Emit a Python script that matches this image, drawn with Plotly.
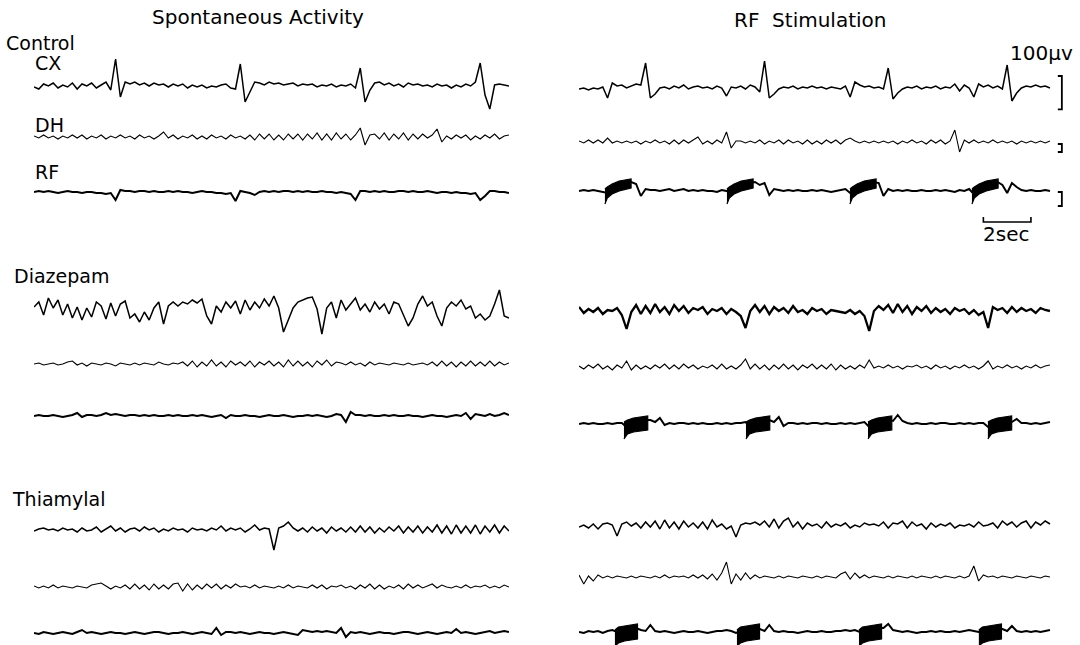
import plotly.graph_objects as go

# ---------------- data (µV, upward positive, one sample every 0.2 s) ----------------
DT = 0.2

# Control - spontaneous activity
ctrl_sp_cx = [0,-6,9,3,12,-3,6,0,12,-6,9,3,12,-3,6,15,-9,
              84,-30,15,
              9,15,6,12,3,12,6,9,0,9,3,9,-3,6,0,6,-3,3,0,6,9,-3,
              -6,69,-45,-15,15,
              12,6,15,9,12,6,9,12,3,9,6,9,0,6,3,9,0,6,3,9,-3,
              57,-45,-10,12,
              15,6,12,3,9,0,12,6,9,3,6,0,9,3,6,-3,6,0,9,3,15,
              72,-24,-66,6,9,6,3]
ctrl_sp_dh = [3,-3,6,-3,3,-6,3,-3,6,-3,6,-6,3,-3,6,-6,3,-3,6,-3,3,-6,6,-3,3,-6,3,
              15,
              -3,6,-6,3,-3,6,-6,3,-6,6,-3,3,-6,6,-3,3,-6,6,
              -9,9,-6,9,-9,6,-9,9,-6,9,-9,9,-6,12,-9,9,-9,12,-6,9,-9,6,
              27,-24,6,
              9,-6,12,-9,9,-6,12,-9,9,-6,9,-3,6,
              24,-15,3,
              -6,6,-3,6,-9,3,-6,6,-3,9,-6,3,6]
ctrl_sp_rf = [0,3,0,3,0,-3,0,3,0,0,-3,0,0,-3,-3,-6,-3,
              -24,6,3,
              3,0,3,3,0,3,0,0,3,0,3,0,0,-3,0,3,0,0,-3,-3,-6,-3,
              -27,3,0,-3,-9,0,
              3,0,3,0,3,3,0,3,0,3,0,0,3,0,0,-3,0,-3,-6,
              -24,3,3,
              0,3,0,3,0,0,3,3,0,3,0,0,3,0,-3,0,0,-3,0,-3,-3,-6,-3,
              -24,-12,3,3,0,0,-3]

# Control - RF stimulation
ctrl_rf_cx = [0,3,-3,3,0,6,
              -27,
              18,9,12,3,9,15,
              12,78,-27,-15,3,
              6,0,9,3,12,0,6,9,3,6,0,9,3,
              -21,6,3,9,0,12,6,-9,
              84,-27,-15,0,
              6,3,9,0,6,3,9,3,6,0,6,3,0,9,
              -24,21,12,6,9,3,6,0,
              63,-30,-12,0,
              6,3,9,0,6,3,9,0,6,3,
              15,-6,12,3,-24,15,6,12,3,9,0,
              72,-36,-12,3,
              9,6,12,6,9,3]
ctrl_rf_dh = [3,-3,6,-3,6,-3,
              12,-3,
              3,-3,3,-3,3,-6,3,-3,6,-3,3,-6,6,-6,6,-3,
              6,15,-6,
              3,-6,6,-3,
              30,-18,3,
              3,-3,3,-3,6,-6,3,-3,6,-6,6,-3,3,-6,6,-6,3,-6,6,-3,6,-6,6,
              12,3,
              -3,3,-3,3,-3,3,-3,3,-6,3,-3,6,-3,3,-6,6,-3,6,-6,3,
              36,-30,6,
              -3,6,-3,3,-3,6,-3,3,-3,3,-6,3,-3,3,-3,3,-3,3]
ctrl_rf_rf = [0,3,0,3,0,-3,
              -6,6,15,18,21,
              27,21,-15,6,3,
              3,0,3,6,0,3,6,0,3,0,3,0,0,-3,3,
              0,
              -9,9,15,21,24,
              27,18,24,-12,6,3,
              0,3,0,3,0,0,3,0,3,0,-3,0,3,6,
              -6,6,15,21,24,
              27,24,-15,6,0,
              3,0,3,0,0,3,0,0,3,0,3,0,-3,3,0,6,
              -9,6,15,21,24,
              27,18,-6,24,12,3,
              0,3,0,0,3,0]

# Diazepam - spontaneous activity
dz_sp_cx = [15,30,-9,42,12,36,-9,24,-18,15,
            -24,12,-15,30,18,-21,27,-12,24,33,
            -18,-6,-30,0,-24,12,30,-36,18,30,
            18,30,24,36,27,39,-12,-36,18,0,
            30,12,33,-6,36,6,30,12,39,18,
            48,12,-60,-24,12,30,36,42,45,9,
            -66,12,30,-18,36,6,24,42,6,24,
            0,30,9,24,-6,30,24,-9,-42,-18,
            24,48,18,30,-12,-42,12,30,18,36,
            9,18,-18,-6,-24,-12,24,66,-12,-18]
dz_sp_dh = [0,3,-3,0,3,-3,0,6,9,-3,3,-6,3,0,-3,3,0,-6,3,0,-3,3,-3,3,0,-3,6,0,-3,3,0,
            6,-6,9,-9,6,-6,12,-6,6,-9,9,-3,6,-6,9,-9,6,-3,9,-6,6,-9,12,-6,9,-6,6,-9,9,-3,12,-6,6,
            3,-3,6,-3,3,-6,6,-3,3,0,-3,3,0,-3,3,-3,0,3,-3,
            6,-6,9,-6,6,-9,6,-6,9,-6,6,-6,9,-6,6,-3,3]
dz_sp_rf = [0,3,0,0,3,0,-3,0,3,
            9,-3,3,3,0,3,9,3,6,
            3,0,3,3,0,3,0,3,0,0,3,0,3,0,0,3,0,3,0,-3,0,
            3,-6,3,0,
            0,3,0,0,-3,0,3,0,0,3,0,-3,0,0,3,0,3,0,-3,0,6,
            3,-18,12,3,
            3,0,3,0,0,3,0,3,0,0,3,0,0,-3,0,3,0,0,-3,0,3,0,
            9,-9,6,3,
            0,6,0,3,9,3]

# Diazepam - RF stimulation
dz_rf_cx = [15,-3,9,0,12,-6,6,3,12,-9,
            -51,0,21,-6,
            18,-3,24,0,15,-6,21,3,18,-3,12,6,15,-6,9,3,12,-6,9,0,-12,
            -48,3,21,0,
            18,-6,15,3,12,-3,18,0,6,-6,12,3,9,-6,6,3,0,-3,6,-6,3,-12,
            -57,3,18,6,
            21,-3,24,0,18,-6,15,3,18,-3,12,0,9,-6,12,3,9,-6,6,-9,0,
            -48,15,6,
            12,-3,15,0,12,3,9,-3,12,6,3]
dz_rf_dh = [3,-6,6,-3,9,-6,3,-9,6,-3,
            18,-9,
            6,-6,3,-6,6,-3,9,-6,6,-6,9,-3,6,-6,3,-3,6,-6,9,-6,3,-6,6,
            24,-6,
            9,-6,6,-9,6,-6,9,-6,6,-9,6,-3,9,-6,6,-6,9,-9,6,-6,3,-6,6,-3,
            21,-3,
            3,-3,6,-3,3,-6,3,0,6,-3,3,-6,6,-3,3,-6,3,-3,6,-3,3,-6,3,
            18,-6,
            3,-3,6,-3,3,-6,3,-3,6,-3,3,6]
dz_rf_rf = [0,3,0,3,0,0,3,0,3,3,
            -9,0,6,9,12,12,
            6,18,-3,3,
            0,3,3,0,3,0,3,0,0,3,0,3,0,3,3,6,
            -9,0,6,12,12,
            6,21,-6,3,
            3,0,3,0,3,3,0,3,0,0,3,0,3,0,3,6,
            -9,0,6,12,12,
            9,27,9,3,
            0,3,0,0,3,0,3,3,0,0,3,0,3,0,3,3,
            -9,3,9,12,12,
            6,15,3,3,
            0,3,0,3,6]

# Thiamylal - spontaneous activity
th_sp_cx = [-3,3,6,0,3,-3,6,0,3,-6,6,-3,0,9,-6,3,12,-3,6,-6,3,6,-3,9,0,6,-6,3,-3,6,0,3,-6,6,0,3,-3,6,0,
            12,-3,6,0,6,-6,3,15,0,6,3,-60,6,12,24,6,-3,
            6,-6,9,-3,6,-9,9,-3,6,-6,9,-6,12,-6,9,-9,6,-6,9,-3,12,-9,9,-6,12,-9,9,-6,15,-9,
            12,-12,15,-9,12,-9,15,-12,12,-6,15,-9,12,-3]
th_sp_dh = [3,-3,3,-3,6,-3,3,0,-3,3,0,-3,6,9,12,3,-6,3,-3,6,
            -6,9,-6,6,-9,9,-6,6,-6,9,12,-12,9,-9,6,-6,9,-3,9,-6,
            6,-3,9,0,3,-3,6,-3,3,0,-3,3,-3,6,-3,3,0,-3,6,-3,
            6,-6,3,0,6,-3,3,-6,6,-3,9,-6,6,-6,3,-3,6,-6,9,-3,
            6,-3,3,9,-3,6,0,-3,3,-3,6,-3,3,0,6,-3,3,-3,6,0]
th_sp_rf = [0,-3,3,0,-3,0,3,0,-3,3,
            9,0,3,
            0,-3,0,3,0,0,-3,0,3,0,-3,0,3,3,0,-3,0,0,3,0,-3,0,3,0,-3,
            15,-6,3,
            3,0,3,0,-3,0,3,0,0,-3,0,3,0,-3,-6,
            9,6,3,
            6,3,6,3,0,
            15,-12,3,
            0,3,0,-3,0,3,0,0,-3,0,3,3,0,-3,0,3,0,-3,0,3,0,
            12,0,
            3,0,-3,0,3,6,0,3,6,3]

# Thiamylal - RF stimulation
th_rf_cx = [0,6,-3,9,-6,9,12,6,
            -27,9,15,3,
            12,-3,15,0,18,-6,21,-3,15,-6,18,0,12,-3,15,-6,21,0,9,-6,3,
            -30,6,12,9,15,6,18,0,24,-3,18,27,0,
            15,-6,12,3,9,-3,15,0,9,3,12,-3,6,0,12,6,9,3,15,-3,
            12,9,18,-3,15,3,9,-6,12,0,9,3,12,-3,6,3,9,0,15,3,
            6,12,-3,18,6,15,0,12,18,-3,15,6,18,9]
th_rf_dh = [6,-21,3,-12,6,-3,
            3,-3,3,0,-3,3,-3,3,0,-3,3,-3,6,-3,3,0,3,-3,6,-3,
            6,-6,9,-9,12,45,-21,9,-9,12,
            -6,6,-3,3,0,-3,3,-3,3,0,-3,3,0,-3,3,-3,3,0,-3,
            9,15,-6,12,-3,6,
            -3,3,0,-3,3,-3,3,0,-3,3,-3,3,0,-3,3,-3,3,0,-3,3,-3,3,
            33,-12,6,
            0,3,-3,3,0,-3,3,0,-3,3,0,-3,3,0]
th_rf_rf = [0,-3,3,0,3,-3,3,6,
            0,6,9,12,12,
            6,3,21,3,
            0,3,0,-3,0,3,0,0,3,0,-3,0,3,3,6,3,
            -3,3,6,9,12,9,
            3,21,3,
            0,3,0,0,-3,0,3,0,0,3,0,0,3,3,6,3,6,
            0,3,9,12,12,12,
            24,6,3,
            0,3,0,-3,0,0,3,0,3,0,0,3,0,3,6,3,
            0,6,9,12,12,9,
            3,18,3,
            0,3,0,3,0,3,6]

# RF stimulation trains (start times in s) and the envelope of the train response
ctrl_burst_starts = [1.09, 6.22, 11.39, 16.52]
ctrl_burst_t = [0, 0.1, 0.3, 0.6, 1.1]
ctrl_burst_lo = [-39, -21, -9, 0, 9]
ctrl_burst_hi = [6, 12, 21, 30, 36]

dz_burst_starts = [1.89, 7.02, 12.15, 17.19]
dz_burst_t = [0, 0.15, 0.4, 0.7, 1.0]
dz_burst_lo = [-45, -30, -24, -21, -18]
dz_burst_hi = [6, 12, 18, 21, 24]

th_burst_starts = [1.51, 6.64, 11.77, 16.81]
th_burst_t = [0, 0.15, 0.4, 0.7, 0.95]
th_burst_lo = [-42, -33, -27, -24, -21]
th_burst_hi = [6, 15, 18, 21, 24]

# calibration marks
CAL_UV = {"CX": 100, "DH": 24, "RF": 42}
SCALEBAR_SEC = 2

# ---------------- layout constants ----------------
UV_PER_PX = 3.0
FIG_W, FIG_H = 1080, 645
LEFT_BASE = {"Control": (87, 137, 192), "Diazepam": (312, 364, 416), "Thiamylal": (530, 587, 633)}
RIGHT_BASE = {"Control": (89, 142, 191), "Diazepam": (312, 367, 424), "Thiamylal": (527, 577, 632)}
WIDTHS = {"CX": 1.5, "DH": 1.1, "RF": 2.0}

fig = go.Figure()


def off(px):
    return -px * UV_PER_PX


def add_line(vals, base_px, xaxis, width, color="black"):
    t = [i * DT for i in range(len(vals))]
    y = [off(base_px) + v for v in vals]
    fig.add_trace(go.Scatter(x=t, y=y, xaxis=xaxis, yaxis="y", mode="lines",
                             line=dict(color=color, width=width, shape="linear"),
                             hoverinfo="skip", showlegend=False))


def add_bursts(starts, bt, lo, hi, base_px):
    for s in starts:
        xs = [s + v for v in bt] + [s + v for v in bt[::-1]]
        ys = [off(base_px) + v for v in hi] + [off(base_px) + v for v in lo[::-1]]
        fig.add_trace(go.Scatter(x=xs, y=ys, xaxis="x2", yaxis="y", mode="lines",
                                 fill="toself", fillcolor="black",
                                 line=dict(color="black", width=1.2),
                                 hoverinfo="skip", showlegend=False))


channels = ["CX", "DH", "RF"]
left_data = {"Control": (ctrl_sp_cx, ctrl_sp_dh, ctrl_sp_rf),
             "Diazepam": (dz_sp_cx, dz_sp_dh, dz_sp_rf),
             "Thiamylal": (th_sp_cx, th_sp_dh, th_sp_rf)}
right_data = {"Control": (ctrl_rf_cx, ctrl_rf_dh, ctrl_rf_rf),
              "Diazepam": (dz_rf_cx, dz_rf_dh, dz_rf_rf),
              "Thiamylal": (th_rf_cx, th_rf_dh, th_rf_rf)}

for cond in ["Control", "Diazepam", "Thiamylal"]:
    for k, ch in enumerate(channels):
        w = WIDTHS[ch]
        add_line(left_data[cond][k], LEFT_BASE[cond][k], "x", w)
        wr = 2.3 if (cond == "Diazepam" and ch == "CX") else w
        add_line(right_data[cond][k], RIGHT_BASE[cond][k], "x2", wr)

add_bursts(ctrl_burst_starts, ctrl_burst_t, ctrl_burst_lo, ctrl_burst_hi, RIGHT_BASE["Control"][2])
add_bursts(dz_burst_starts, dz_burst_t, dz_burst_lo, dz_burst_hi, RIGHT_BASE["Diazepam"][2])
add_bursts(th_burst_starts, th_burst_t, th_burst_lo, th_burst_hi, RIGHT_BASE["Thiamylal"][2])

# calibration brackets (right of the Control RF-stimulation traces)
BR_X, BR_TICK = 20.3, 0.17
cal_tops = {"CX": 76, "DH": 144, "RF": 192}
for ch in channels:
    top = off(cal_tops[ch])
    bot = top - CAL_UV[ch]
    fig.add_trace(go.Scatter(x=[BR_X - BR_TICK, BR_X, BR_X, BR_X - BR_TICK], y=[top, top, bot, bot],
                             xaxis="x2", yaxis="y", mode="lines",
                             line=dict(color="black", width=1.8), hoverinfo="skip", showlegend=False))

# time scale bar
SB_X0 = 17.0
fig.add_trace(go.Scatter(x=[SB_X0, SB_X0, SB_X0 + SCALEBAR_SEC, SB_X0 + SCALEBAR_SEC],
                         y=[off(217), off(222), off(222), off(217)],
                         xaxis="x2", yaxis="y", mode="lines",
                         line=dict(color="black", width=1.6), hoverinfo="skip", showlegend=False))

FONT = "DejaVu Sans"


def label(text, px, py, size=19, anchor="left"):
    fig.add_annotation(text=text, x=px / FIG_W, y=1 - py / FIG_H, xref="paper", yref="paper",
                       xanchor=anchor, yanchor="middle", showarrow=False,
                       font=dict(family=FONT, size=size, color="black"))


label("Spontaneous Activity", 258, 17, 20, "center")
label("RF\u00a0 Stimulation", 810, 20, 20, "center")
label("Control", 4, 43)
label("CX", 33, 63)
label("DH", 33, 125)
label("RF", 33, 172)
label("Diazepam", 12, 276)
label("Thiamylal", 10, 499)
label("100\u00b5v", 1041, 53, 20, "center")
label("2sec", 1006, 234, 20, "center")

fig.update_layout(
    width=FIG_W, height=FIG_H,
    margin=dict(l=0, r=0, t=0, b=0),
    paper_bgcolor="white", plot_bgcolor="white",
    showlegend=False,
    xaxis=dict(domain=[34 / FIG_W, 509 / FIG_W], range=[0, 19.8], visible=False, anchor="y"),
    xaxis2=dict(domain=[579 / FIG_W, 1069 / FIG_W], range=[0, 20.6], visible=False, anchor="y"),
    yaxis=dict(domain=[0, 1], range=[-FIG_H * UV_PER_PX, 0], visible=False),
)

fig.write_html("out.html")
